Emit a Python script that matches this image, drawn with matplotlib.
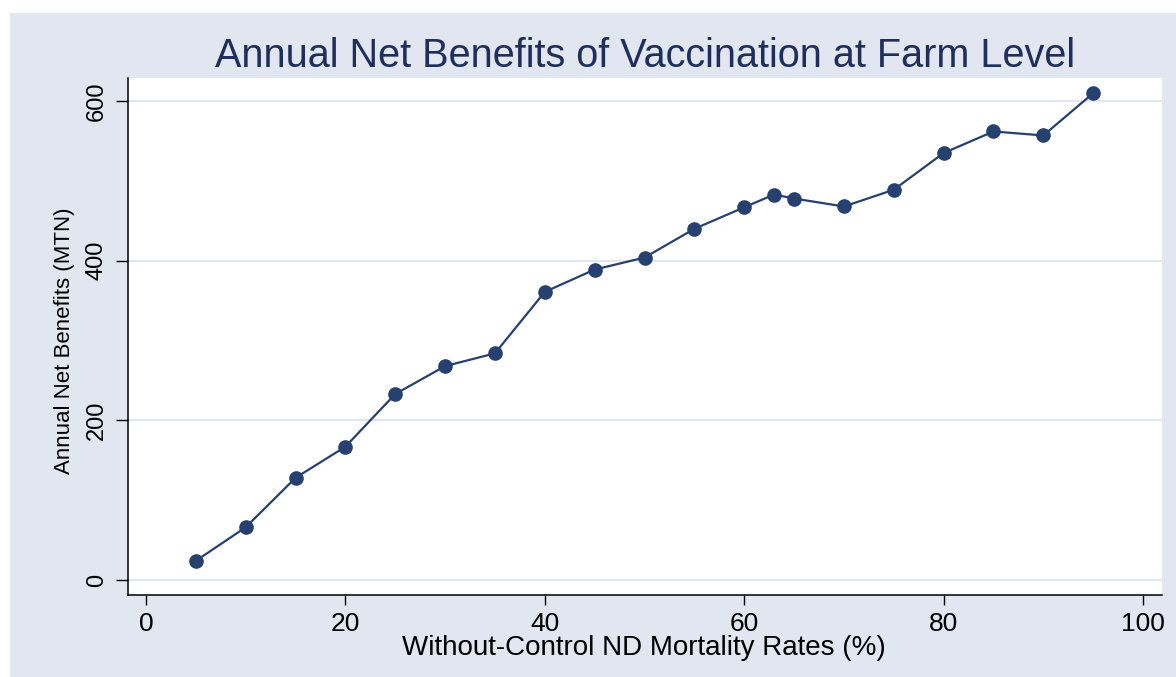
import numpy as np
import matplotlib
matplotlib.use("Agg")
from matplotlib import pyplot as plt
from matplotlib.patches import Rectangle

# data
mortality = [5, 10, 15, 20, 25, 30, 35, 40, 45, 50, 55, 60, 63, 65, 70, 75, 80, 85, 90, 95]
net_benefits = [24, 66, 128, 167, 233, 268, 284, 361, 389, 404, 440, 467, 483, 478, 468, 489, 535, 562, 557, 610]

x_ticks = [0, 20, 40, 60, 80, 100]
y_ticks = [0, 200, 400, 600]

bg = '#E1E6F0'
navy = '#26406F'

plt.rcParams['font.family'] = ['Liberation Sans', 'DejaVu Sans']

W, H = 1176, 677
fig = plt.figure(figsize=(W/100, H/100), dpi=100, facecolor='white')

# outer grey-blue frame (white strip at left and top)
fig.patches.append(Rectangle((10/W, 0), 1 - 10/W, 1 - 13/H, transform=fig.transFigure,
                             facecolor=bg, edgecolor='none', zorder=-10))

ax = fig.add_axes([128/W, 1 - 595/H, (1162 - 128)/W, (595 - 78)/H])
ax.set_facecolor('white')

for y in y_ticks:
	ax.axhline(y, color=bg, linewidth=1.6, zorder=1)

ax.plot(mortality, net_benefits, color=navy, linewidth=1.6, marker='o', markersize=9.5,
        markerfacecolor=navy, markeredgecolor=navy, zorder=3)

ax.set_xlim(-1.8, 101.9)
ax.set_ylim(-18.8, 629)

ax.set_xticks(x_ticks)
ax.set_yticks(y_ticks)
ax.tick_params(axis='x', length=7.2, width=1, pad=5, labelsize=19, colors='black')
ax.tick_params(axis='y', length=8.6, width=1, pad=6, labelsize=17, colors='black')
for lab in ax.get_yticklabels():
	lab.set_rotation(90)
	lab.set_va('center')

for s in ['top', 'right']:
	ax.spines[s].set_visible(False)
for s in ['left', 'bottom']:
	ax.spines[s].set_linewidth(1.1)
	ax.spines[s].set_color('black')

fig.text(645.5/W, 1 - 67/H, 'Annual Net Benefits of Vaccination at Farm Level',
         ha='center', va='baseline', fontsize=28.5, color='#1E2F5B')
fig.text(644/W, 1 - 648/H, 'Without-Control ND Mortality Rates (%)',
         ha='center', va='center', fontsize=20, color='black')
fig.text(65/W, 1 - 341/H, 'Annual Net Benefits (MTN)', rotation=90,
         ha='center', va='center', fontsize=16, color='black')

plt.savefig('out.png', dpi=100, facecolor=fig.get_facecolor())
